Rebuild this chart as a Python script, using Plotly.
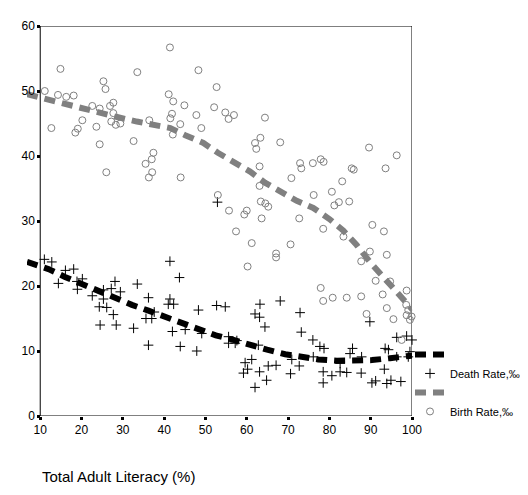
import plotly.graph_objects as go

# birth rate points (open circles)
birth_x = [11.1, 12.7, 14.9, 14.3, 16.3, 18.1, 18.5, 19.1, 20.2, 22.6, 23.6, 24.4, 24.4, 25.3,
           25.8, 26.0, 26.9, 27.7, 27.2, 27.7, 28.3, 29.4, 33.5, 32.6, 36.4, 37.4, 37.0, 35.5,
           37.1, 36.3, 41.4, 41.1, 42.2, 41.9, 41.5, 42.1, 44.9, 43.9, 44.0, 48.3, 47.8, 49.0,
           52.1, 52.7, 53.0, 54.8, 55.6, 56.9, 64.4, 63.3, 62.0, 62.3, 68.1, 63.1, 63.1, 70.8,
           72.9, 73.2, 76.0, 77.9, 78.6, 85.4, 85.9, 89.6, 96.3, 93.6, 83.1, 80.6, 76.2, 84.8,
           82.3, 81.2, 63.4, 64.5, 65.2, 55.7, 60.0, 59.4, 63.6, 72.7, 57.4, 61.2, 70.6, 67.1,
           67.1, 60.2, 78.5, 83.4, 90.4, 93.2, 89.8, 93.9, 87.7, 91.2, 94.7, 92.9, 98.7, 77.9,
           78.5, 80.8, 84.2, 87.7, 93.9, 98.6, 99.1, 99.9, 98.7, 99.5, 95.5, 89.0, 97.5]
birth_y = [50.0, 44.3, 53.4, 49.4, 49.1, 49.3, 43.6, 44.2, 45.5, 47.7, 44.5, 47.3, 41.8, 51.5,
           50.3, 37.5, 47.7, 48.2, 45.3, 46.6, 44.8, 45.0, 52.9, 42.3, 45.5, 40.5, 39.5, 38.8,
           37.5, 36.7, 56.7, 49.5, 48.4, 46.5, 45.8, 43.3, 47.8, 44.9, 36.7, 53.2, 46.3, 44.3,
           47.5, 50.6, 34.0, 46.7, 45.7, 46.3, 45.9, 42.8, 42.0, 41.1, 42.1, 38.4, 35.4, 36.6,
           38.9, 38.1, 38.9, 39.5, 39.1, 38.1, 37.9, 41.3, 40.1, 38.1, 36.1, 34.5, 34.0, 33.0,
           32.9, 32.4, 33.0, 32.7, 32.2, 31.6, 31.6, 31.0, 30.4, 30.4, 28.4, 26.6, 26.4, 25.0,
           24.4, 23.0, 28.8, 27.6, 29.4, 28.4, 25.3, 24.8, 23.8, 20.8, 20.7, 18.7, 19.3, 19.7,
           17.7, 18.2, 18.2, 18.4, 16.6, 17.1, 16.3, 15.3, 15.5, 14.8, 14.9, 15.7, 11.7]

# death rate points (plus signs)
death_x = [11.0, 12.8, 14.4, 16.1, 18.1, 19.0, 20.2, 18.9, 22.6, 24.3, 24.5, 25.3, 26.1, 27.2,
           27.7, 28.1, 28.4, 29.4, 25.3, 32.6, 33.5, 36.2, 35.6, 37.0, 36.2, 37.6, 41.4, 41.4,
           41.0, 42.3, 43.7, 42.0, 43.9, 45.1, 48.3, 47.9, 49.1, 52.7, 52.9, 54.8, 55.6, 55.6,
           57.2, 63.2, 62.0, 63.1, 64.4, 68.1, 72.9, 73.2, 76.0, 77.7, 78.7, 59.6, 61.2, 59.2,
           60.2, 63.1, 62.0, 64.8, 65.2, 67.1, 70.6, 72.7, 70.9, 76.1, 78.5, 78.5, 80.6, 82.6,
           84.2, 82.6, 85.6, 85.0, 87.7, 87.8, 89.8, 93.5, 94.3, 93.3, 90.3, 91.2, 93.9, 94.9,
           97.3, 96.3, 98.7, 100.0, 99.5, 99.1, 96.3, 57.6, 62.8]
death_y = [24.1, 23.7, 20.4, 22.4, 22.6, 19.5, 21.1, 20.7, 18.5, 16.8, 14.0, 19.4, 16.7, 19.6,
           15.6, 20.7, 14.0, 19.1, 18.0, 13.5, 20.3, 18.2, 15.0, 15.0, 10.9, 16.0, 23.8, 18.0,
           17.2, 17.2, 21.3, 13.0, 10.7, 13.3, 16.3, 10.0, 12.7, 17.0, 32.9, 16.8, 12.2, 11.2,
           11.2, 17.2, 15.7, 15.2, 13.7, 17.7, 15.9, 12.9, 11.7, 10.7, 10.4, 8.2, 8.7, 6.6,
           7.2, 6.8, 4.4, 5.5, 7.7, 7.8, 6.5, 7.7, 8.7, 9.1, 6.8, 5.1, 6.2, 6.8,
           6.7, 8.1, 10.4, 9.6, 6.6, 9.1, 14.5, 10.4, 10.2, 7.2, 5.1, 5.4, 5.0, 5.5,
           5.3, 12.1, 12.3, 11.7, 9.9, 9.1, 9.1, 11.6, 10.9]

# smoothed fit lines
birth_fit_x = [6.8, 12.4, 16.0, 20.5, 24.5, 28.6, 33.4, 37.4, 41.5, 45.1, 49.5, 53.0, 57.2,
               60.8, 64.4, 68.1, 72.1, 76.1, 80.0, 83.4, 86.6, 89.8, 93.1, 95.9, 98.7, 100.2]
birth_fit_y = [49.5, 48.6, 47.8, 47.1, 46.6, 46.0, 45.3, 44.8, 44.3, 43.2, 42.0, 40.5, 39.0,
               37.6, 35.9, 34.5, 33.1, 32.0, 30.3, 28.5, 26.3, 23.7, 21.4, 19.4, 17.3, 16.3]
death_fit_x = [6.8, 12.0, 16.0, 20.1, 24.1, 28.1, 32.2, 36.2, 40.2, 44.3, 48.5, 52.5, 56.8,
               60.8, 64.9, 69.3, 73.3, 77.3, 81.8, 86.2, 90.3, 94.7, 99.1, 100.2]
death_fit_y = [23.7, 22.6, 21.4, 20.3, 19.3, 18.1, 17.1, 16.2, 15.3, 14.3, 13.2, 12.4, 11.7,
               10.9, 10.2, 9.5, 9.0, 8.7, 8.5, 8.5, 8.6, 8.9, 9.2, 9.3]

x_ticks = [10, 20, 30, 40, 50, 60, 70, 80, 90, 100]
y_ticks = [0, 10, 20, 30, 40, 50, 60]

FONT = "Liberation Sans, Arial, sans-serif"
GRAY = "#808080"
X_RANGE = [6.8, 100]
# page body adds 8px; figure is made wider so the legend never squeezes the plot
W, H = 560, 487
PLOT_W = 385

fig = go.Figure()

fig.add_trace(go.Scatter(x=death_x, y=death_y, mode="markers", name="Death Rate,‰",
                         marker=dict(symbol="cross-thin-open", size=7, color="black",
                                     line=dict(color="black", width=1)),
                         cliponaxis=False, legendrank=2))
fig.add_trace(go.Scatter(x=birth_x, y=birth_y, mode="markers", name="Birth Rate,‰",
                         marker=dict(symbol="circle-open", size=7, color=GRAY,
                                     line=dict(color=GRAY, width=1)),
                         cliponaxis=False, legendrank=4))
fig.add_trace(go.Scatter(x=death_fit_x, y=death_fit_y, mode="lines", name="",
                         line=dict(color="black", width=6, dash="11px,7px"),
                         showlegend=True, legendrank=1))
fig.add_trace(go.Scatter(x=birth_fit_x, y=birth_fit_y, mode="lines", name="",
                         line=dict(color=GRAY, width=6, dash="11px,7px"),
                         showlegend=True, legendrank=3))

# frame drawn from x=10, the fit lines run a little past the left axis
fig.add_shape(type="rect", xref="x", yref="y", x0=10, x1=100, y0=0, y1=60,
              line=dict(color="black", width=1), layer="below")

fig.add_annotation(text="Total Adult Literacy (%)", xref="x", yref="paper",
                   x=10, y=-0.154, xanchor="left", yanchor="middle", showarrow=False,
                   font=dict(family=FONT, size=15, color="black"))

ypos = (10 - X_RANGE[0]) / (X_RANGE[1] - X_RANGE[0])

fig.update_layout(
    width=W, height=H,
    margin=dict(l=19, r=W - 19 - PLOT_W, t=18, b=79),
    paper_bgcolor="white", plot_bgcolor="white",
    font=dict(family=FONT, size=12, color="black"),
    xaxis=dict(range=X_RANGE, tickvals=x_ticks, ticks="outside", ticklen=3, tickwidth=3,
               tickcolor="black", showline=False, showgrid=False, zeroline=False,
               tickfont=dict(size=12)),
    yaxis=dict(range=[0, 60], tickvals=y_ticks, ticks="outside", ticklen=3, tickwidth=3,
               tickcolor="black", showline=False, showgrid=False, zeroline=False,
               anchor="free", position=ypos, tickfont=dict(size=12)),
    legend=dict(x=1.0 - 2 / PLOT_W, y=0.195, xanchor="left", yanchor="top",
                bgcolor="rgba(0,0,0,0)", font=dict(size=11), traceorder="normal"),
    showlegend=True,
)

fig.write_html("out.html")
